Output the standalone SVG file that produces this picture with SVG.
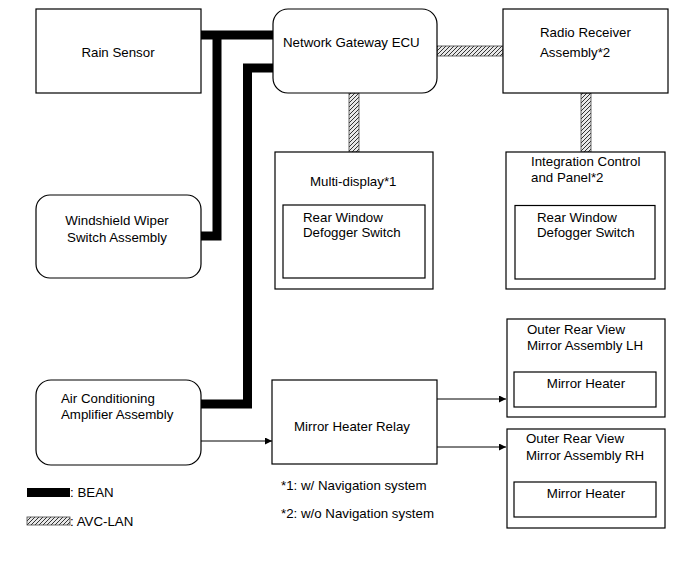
<svg xmlns="http://www.w3.org/2000/svg" width="691" height="564" viewBox="0 0 691 564">
<style>
.box{fill:#fff;stroke:#000;stroke-width:1.2}
.in{fill:none;stroke:#000;stroke-width:1.2}
text{font-family:"Liberation Sans",Arial,sans-serif;font-size:13.3px;fill:#000}
.c{text-anchor:middle}
.bean{fill:none;stroke:#000;stroke-width:9;stroke-linejoin:miter;stroke-linecap:butt}
.avc{fill:url(#hatch);stroke:#444;stroke-width:0.8}
.wire{fill:none;stroke:#000;stroke-width:1}
</style>
<defs>
<pattern id="hatch" patternUnits="userSpaceOnUse" width="4" height="4">
<rect width="4" height="4" fill="#e8e8e8"/>
<path d="M-1,1 L1,-1 M0,4 L4,0 M3,5 L5,3" stroke="#333" stroke-width="1"/>
</pattern>
<marker id="arr" viewBox="0 0 10 10" refX="10" refY="5" markerWidth="9" markerHeight="7" markerUnits="userSpaceOnUse" orient="auto">
<path d="M0,0 L10,5 L0,10 Z" fill="#000"/>
</marker>
</defs>

<g id="connectors">
<path class="bean" d="M201,35 H273 M217,35 V236 H201"/>
<path class="bean" d="M273,68 H247.5 V404 H201"/>
<rect class="avc" x="437" y="46" width="66" height="10"/>
<rect class="avc" x="349" y="93" width="10" height="59"/>
<rect class="avc" x="581" y="93" width="10" height="59"/>
<path class="wire" d="M201,441 H272" marker-end="url(#arr)"/>
<path class="wire" d="M437,399 H506" stroke="#777" marker-end="url(#arr)"/>
<path class="wire" d="M437,447 H506" marker-end="url(#arr)"/>
</g>

<g id="rain-sensor">
<rect class="box" x="36" y="9" width="165" height="84"/>
<text class="c" x="118" y="57">Rain Sensor</text>
</g>

<g id="network-gateway-ecu">
<rect class="box" x="273" y="9" width="164" height="84" rx="15"/>
<text x="283" y="47">Network Gateway ECU</text>
</g>

<g id="radio-receiver">
<rect class="box" x="503" y="9" width="165" height="84"/>
<text x="540" y="37">Radio Receiver</text>
<text x="540" y="57">Assembly*2</text>
</g>

<g id="windshield-wiper">
<rect class="box" x="36" y="195" width="165" height="83" rx="14"/>
<text class="c" x="117" y="225">Windshield Wiper</text>
<text class="c" x="117" y="242">Switch Assembly</text>
</g>

<g id="multi-display">
<rect class="box" x="275" y="152" width="158" height="137"/>
<text x="310" y="186">Multi-display*1</text>
<rect class="in" x="283" y="205" width="142" height="73"/>
<text x="303" y="221.5">Rear Window</text>
<text x="303" y="236.5">Defogger Switch</text>
</g>

<g id="integration-control">
<rect class="box" x="506" y="152" width="159" height="137"/>
<text x="531" y="166">Integration Control</text>
<text x="531" y="181.5">and Panel*2</text>
<rect class="in" x="515" y="205.5" width="140" height="73.5"/>
<text x="537" y="221.5">Rear Window</text>
<text x="537" y="236.5">Defogger Switch</text>
</g>

<g id="ac-amplifier">
<rect class="box" x="36" y="380" width="165" height="85" rx="15"/>
<text x="61" y="403">Air Conditioning</text>
<text x="61" y="419">Amplifier Assembly</text>
</g>

<g id="mirror-heater-relay">
<rect class="box" x="272" y="380" width="165" height="84"/>
<text x="294" y="430.5">Mirror Heater Relay</text>
</g>

<g id="mirror-lh">
<rect class="box" x="507" y="319" width="158" height="98"/>
<text x="527" y="333.5">Outer Rear View</text>
<text x="527" y="349.5">Mirror Assembly LH</text>
<rect class="in" x="514" y="372" width="142" height="35"/>
<text class="c" x="586" y="387.5">Mirror Heater</text>
</g>

<g id="mirror-rh">
<rect class="box" x="507" y="429" width="158" height="99"/>
<text x="526" y="442.5">Outer Rear View</text>
<text x="526" y="459.5">Mirror Assembly RH</text>
<rect class="in" x="514" y="482" width="142" height="35"/>
<text class="c" x="586" y="497.5">Mirror Heater</text>
</g>

<g id="notes">
<text x="281" y="489.5">*1: w/ Navigation system</text>
<text x="281" y="517.5">*2: w/o Navigation system</text>
</g>

<g id="legend">
<rect x="27" y="488" width="43" height="9" fill="#000"/>
<text x="70" y="496.5">: BEAN</text>
<rect class="avc" x="27" y="517" width="43" height="8"/>
<text x="70" y="526">: AVC-LAN</text>
</g>
</svg>
